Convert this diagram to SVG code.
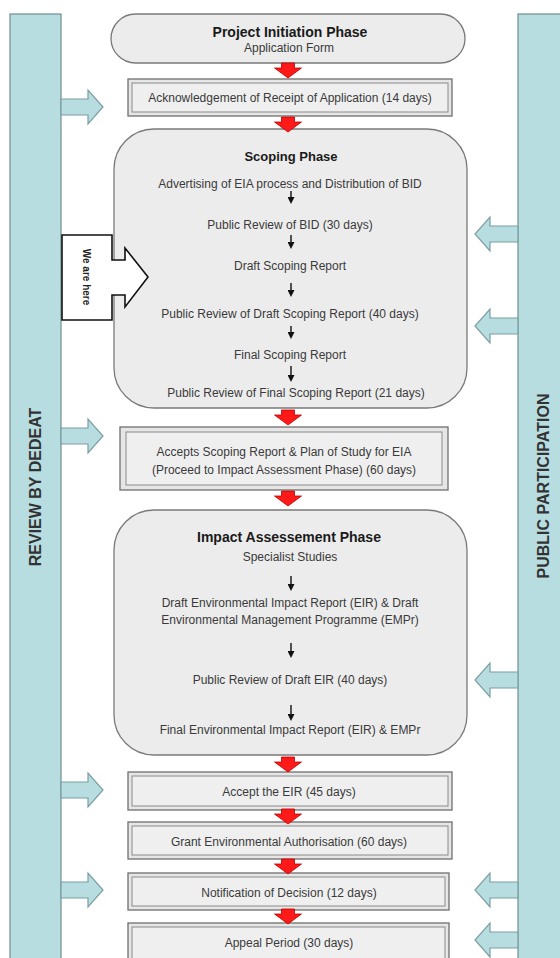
<svg xmlns="http://www.w3.org/2000/svg" width="560" height="958" viewBox="0 0 560 958">
<defs>
<style>
.bar{fill:#b8dde1;stroke:#6e8f93;stroke-width:1.2}
.phase{fill:#ececec;stroke:#7a7a7a;stroke-width:1.3}
.outer{fill:#e6e6e6;stroke:#6f6f6f;stroke-width:1.3}
.inner{fill:#efefef;stroke:#8a8a8a;stroke-width:1}
.t{font-family:"Liberation Sans",Arial,sans-serif;font-size:12px;fill:#3a3a3a;text-anchor:middle}
.h{font-family:"Liberation Sans",Arial,sans-serif;font-size:14px;font-weight:bold;fill:#1a1a1a;text-anchor:middle}
.side{font-family:"Liberation Sans",Arial,sans-serif;font-size:16px;font-weight:bold;fill:#333;text-anchor:middle}
.blue{fill:#b8dde1;stroke:#7a9ea3;stroke-width:1.2}
.red{fill:#ff1a1a;stroke:#b80000;stroke-width:0.8}
.step{stroke:#111;stroke-width:1.4;fill:none;marker-end:url(#ah)}
</style>
<marker id="ah" markerWidth="7" markerHeight="7" refX="5" refY="3.5" orient="auto" markerUnits="userSpaceOnUse" viewBox="0 0 7 7">
<path d="M0 0 L7 3.5 L0 7 Z" fill="#111"/>
</marker>
<path id="redArrow" class="red" d="M-6.5 0 H6.5 V5 H13.5 L0 15 L-13.5 5 H-6.5 Z"/>
</defs>
<rect width="560" height="958" fill="#ffffff"/>

<g id="review-bar">
<rect class="bar" x="10" y="14" width="51" height="950"/>
<text class="side" transform="translate(41 487) rotate(-90)">REVIEW BY DEDEAT</text>
</g>
<g id="public-bar">
<rect class="bar" x="518" y="14" width="50" height="950"/>
<text class="side" transform="translate(549 486) rotate(-90)">PUBLIC PARTICIPATION</text>
</g>

<g id="initiation">
<rect class="phase" x="111" y="14" width="354" height="49" rx="24.5"/>
<text class="h" x="290" y="37">Project Initiation Phase</text>
<text class="t" x="289" y="52">Application  Form</text>
</g>

<g id="acknowledgement">
<rect class="outer" x="128" y="79" width="324" height="37"/>
<rect class="inner" x="132" y="83" width="316" height="29"/>
<text class="t" x="290" y="102">Acknowledgement  of Receipt of Application  (14 days)</text>
</g>

<g id="scoping">
<rect class="phase" x="114" y="129" width="353" height="279" rx="40"/>
<text class="h" x="291" y="161" style="font-size:13px">Scoping Phase</text>
<text class="t" x="290" y="188">Advertising  of EIA process and Distribution  of BID</text>
<text class="t" x="290" y="229">Public  Review of BID  (30 days)</text>
<text class="t" x="290" y="270">Draft  Scoping  Report</text>
<text class="t" x="290" y="318">Public  Review of Draft  Scoping  Report (40 days)</text>
<text class="t" x="290" y="359">Final  Scoping  Report</text>
<text class="t" x="296" y="397">Public  Review of Final  Scoping  Report (21 days)</text>
</g>

<g id="we-are-here">
<path d="M62 235 H112 V260 H125 V248 L148 277 L125 307 V295 H112 V320 H62 Z" fill="#ffffff" stroke="#111" stroke-width="1.6" stroke-linejoin="miter"/>
<text transform="translate(83 277) rotate(90)" style="font-family:'Liberation Sans',Arial,sans-serif;font-size:10px;font-weight:bold;fill:#222;text-anchor:middle">We are here</text>
</g>

<g id="accepts-scoping">
<rect class="outer" x="120" y="427" width="328" height="63"/>
<rect class="inner" x="126" y="432" width="316" height="53"/>
<text class="t" x="284" y="456">Accepts  Scoping Report &amp; Plan of Study for EIA</text>
<text class="t" x="284" y="474">(Proceed to Impact  Assessment  Phase)  (60 days)</text>
</g>

<g id="impact">
<rect class="phase" x="114" y="510" width="353" height="245" rx="40"/>
<text class="h" x="289" y="542">Impact Assessement  Phase</text>
<text class="t" x="290" y="561">Specialist  Studies</text>
<text class="t" x="290" y="607">Draft Environmental  Impact  Report (EIR) &amp; Draft</text>
<text class="t" x="290" y="624">Environmental  Management  Programme  (EMPr)</text>
<text class="t" x="290" y="684">Public  Review of Draft  EIR (40 days)</text>
<text class="t" x="290" y="734">Final Environmental  Impact  Report (EIR) &amp; EMPr</text>
</g>

<g id="accept-eir">
<rect class="outer" x="128" y="772" width="324" height="38"/>
<rect class="inner" x="132" y="776" width="316" height="30"/>
<text class="t" x="289" y="796">Accept the EIR (45 days)</text>
</g>

<g id="grant">
<rect class="outer" x="128" y="822" width="324" height="37"/>
<rect class="inner" x="132" y="826" width="316" height="29"/>
<text class="t" x="289" y="846">Grant Environmental  Authorisation   (60 days)</text>
</g>

<g id="notification">
<rect class="outer" x="128" y="873" width="321" height="37"/>
<rect class="inner" x="132" y="877" width="313" height="29"/>
<text class="t" x="289" y="897">Notification  of Decision  (12 days)</text>
</g>

<g id="appeal">
<rect class="outer" x="128" y="923" width="321" height="40"/>
<rect class="inner" x="132" y="927" width="313" height="40"/>
<text class="t" x="289" y="947">Appeal Period (30 days)</text>
</g>

<g id="connectors">
<use href="#redArrow" x="288" y="63"/>
<use href="#redArrow" x="288" y="117"/>
<use href="#redArrow" x="288" y="410"/>
<use href="#redArrow" x="288" y="491"/>
<use href="#redArrow" x="288" y="757"/>
<use href="#redArrow" x="288" y="809"/>
<use href="#redArrow" x="288" y="859"/>
<use href="#redArrow" x="288" y="909"/>

<line class="step" x1="291" y1="191" x2="291" y2="202"/>
<line class="step" x1="291" y1="235" x2="291" y2="247"/>
<line class="step" x1="291" y1="283" x2="291" y2="295"/>
<line class="step" x1="291" y1="326" x2="291" y2="337"/>
<line class="step" x1="291" y1="366" x2="291" y2="380"/>
<line class="step" x1="291" y1="576" x2="291" y2="589"/>
<line class="step" x1="291" y1="643" x2="291" y2="656"/>
<line class="step" x1="291" y1="705" x2="291" y2="719"/>

<path class="blue" d="M61 99 H88 V90 L103 107 L88 124 V115 H61 Z"/>
<path class="blue" d="M61 428 H88 V419 L103 436 L88 453 V444 H61 Z"/>
<path class="blue" d="M61 782 H88 V773 L103 790 L88 807 V798 H61 Z"/>
<path class="blue" d="M61 882 H88 V873 L103 890 L88 907 V898 H61 Z"/>

<path class="blue" d="M518 226 H490 V217 L475 234 L490 251 V242 H518 Z"/>
<path class="blue" d="M518 318 H490 V309 L475 326 L490 343 V334 H518 Z"/>
<path class="blue" d="M518 672 H490 V663 L475 680 L490 697 V688 H518 Z"/>
<path class="blue" d="M518 882 H490 V873 L475 890 L490 907 V898 H518 Z"/>
<path class="blue" d="M518 932 H490 V923 L475 940 L490 957 V948 H518 Z"/>
</g>
</svg>
